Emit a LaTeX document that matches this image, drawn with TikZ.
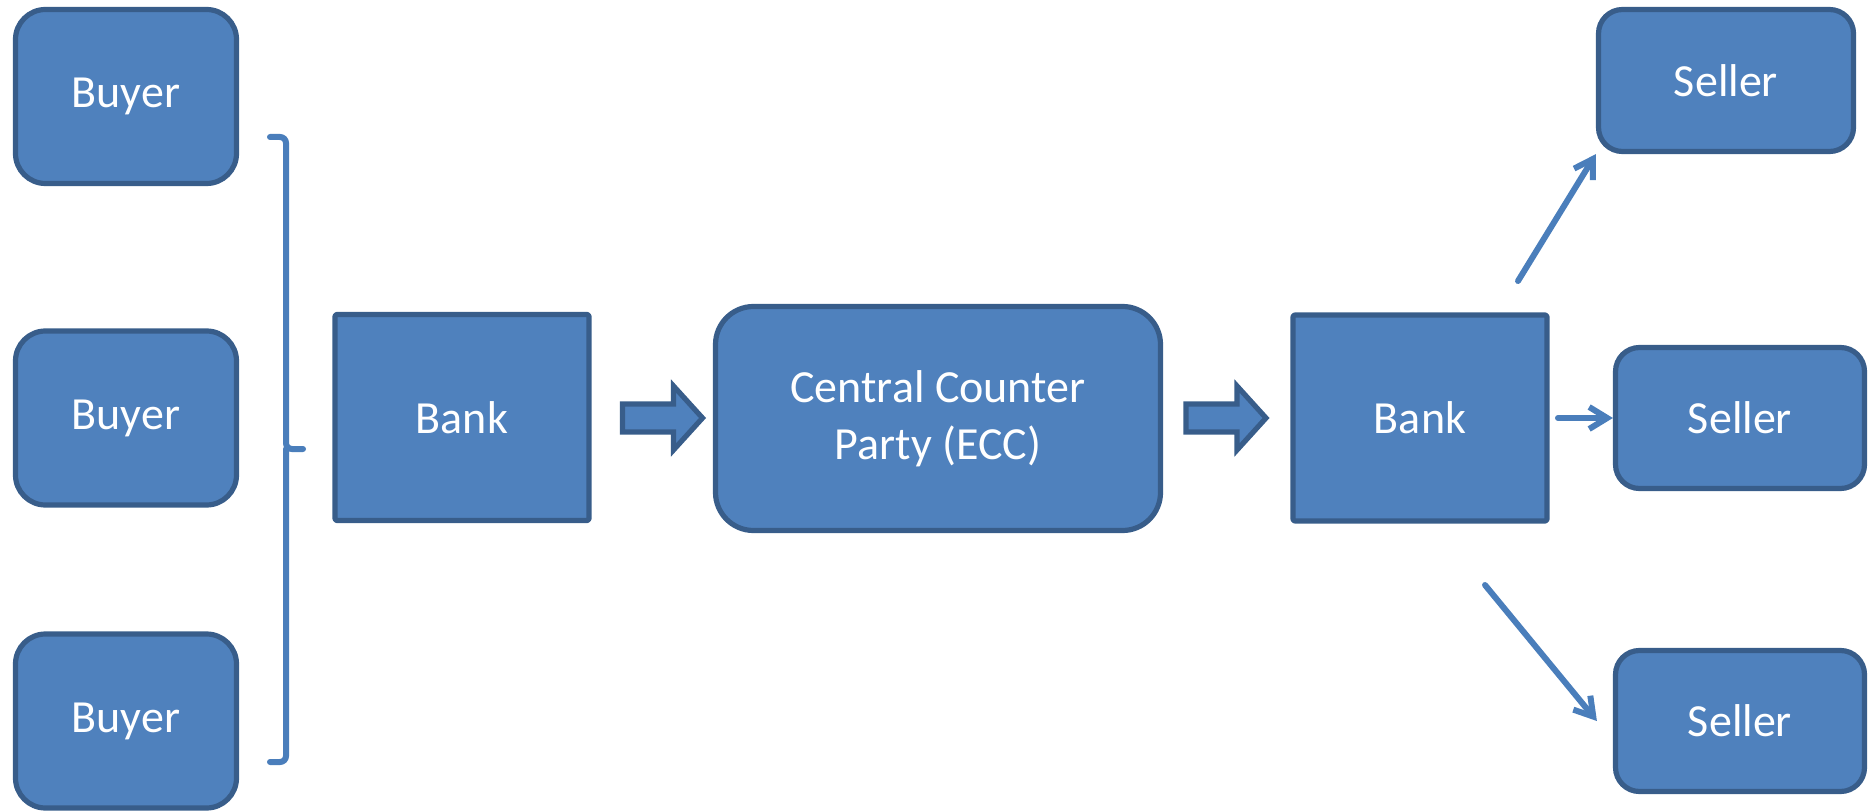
\documentclass[tikz,border=0pt]{standalone}
\usepackage{fontspec}
\setmainfont{Carlito}
\usetikzlibrary{arrows.meta,calc}
\definecolor{boxfill}{HTML}{4F81BD}
\definecolor{boxline}{HTML}{385D8A}
\definecolor{linkblue}{HTML}{4A7EBB}
\begin{document}
\begin{tikzpicture}[x=0.5pt,y=-0.5pt,
  box/.style={draw=boxline, fill=boxfill, line width=2.6pt, text=white,
    font=\fontsize{23}{28.5}\selectfont, inner sep=0pt, align=center},
  rbox/.style={box, rounded corners=#1},
  sqbox/.style={box, line join=round, rounded corners=1pt,
    minimum width=127pt, minimum height=103pt},
  buyerbox/.style={rbox=15pt, minimum width=110.5pt, minimum height=87pt},
  sellerbox/.style={rbox=12pt, minimum width=124.5pt, minimum height=70.5pt},
  linkarrow/.style={draw=linkblue, line width=3pt, line cap=round,
    -{Straight Barb[length=9pt,width=11pt]}},
  blockarrow/.style={draw=boxline, fill=boxfill, line width=2.6pt, line join=miter},
  bracestyle/.style={draw=linkblue, line width=3pt, rounded corners=3pt, line cap=round}]
\path[use as bounding box] (0,0) rectangle (1868,812);

% buyers
\node[buyerbox] (buyer1) at (126,96.5) {Buyer};
\node[buyerbox] (buyer2) at (126,418) {Buyer};
\node[buyerbox] (buyer3) at (126,721) {Buyer};

% brace
\draw[bracestyle] (270,137) -| (286,449) -- (303,449)
                  (286,449) |- (270,762);

% banks and central counter party
\node[sqbox] (bank1) at (462,417.5) {Bank};
\node[rbox=19pt, minimum width=222.5pt, minimum height=112pt] (ecc) at (938,418.5)
  {Central Counter\\Party (ECC)};
\node[sqbox] (bank2) at (1420,418) {Bank};

% sellers
\node[rbox=12pt, minimum width=127.5pt, minimum height=71pt] (seller1) at (1726,80.5) {Seller};
\node[sellerbox] (seller2) at (1740,418) {Seller};
\node[sellerbox] (seller3) at (1740,721) {Seller};

% block arrows
\coordinate (a1) at (662.5,418);
\coordinate (a2) at (1226,418);
\foreach \c in {a1,a2}{
  \draw[blockarrow] ($(\c)+(-40,-14)$) -- ($(\c)+(11,-14)$) -- ($(\c)+(11,-32)$)
    -- ($(\c)+(40,0)$) -- ($(\c)+(11,32)$) -- ($(\c)+(11,14)$)
    -- ($(\c)+(-40,14)$) -- cycle;
}

% connectors to sellers
\coordinate (s1) at (1518,281);
\coordinate (s2) at (1558,418);
\coordinate (s3) at (1485,585);
\draw[linkarrow] (s1) -- (seller1.south west);
\draw[linkarrow] (s2) -- (seller2.west);
\draw[linkarrow] (s3) -- ($(seller3.west)+(-16,0)$);
\end{tikzpicture}
\end{document}
